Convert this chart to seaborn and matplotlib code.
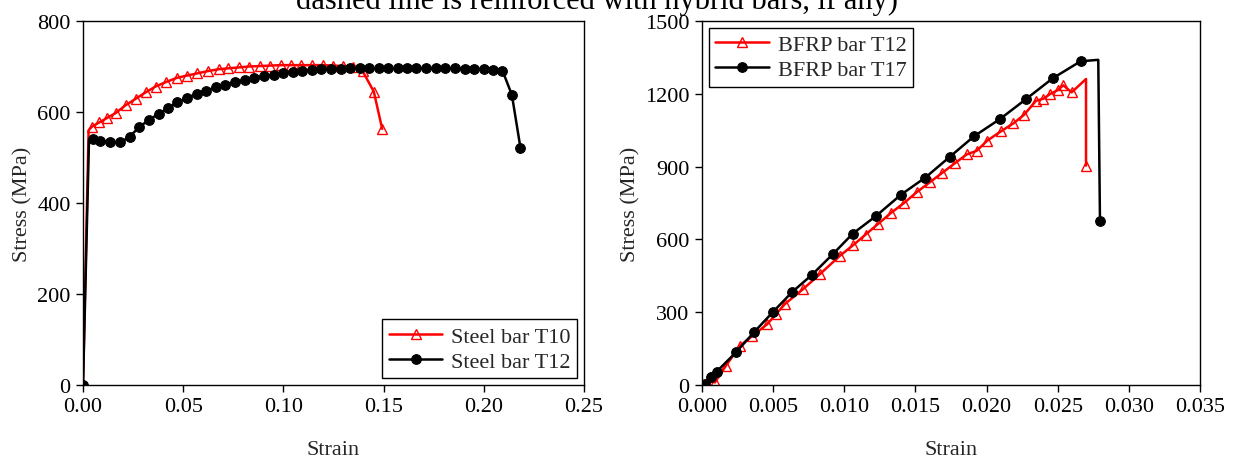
import numpy as np
import pandas as pd
import matplotlib
matplotlib.use("Agg")
import matplotlib.pyplot as plt
import seaborn as sns

# ---------------- data ----------------
t10_strain = [0, 0.0028, 0.0045, 0.0081, 0.0120, 0.0164, 0.0213, 0.0263, 0.0312, 0.0362,
              0.0415, 0.0468, 0.0518, 0.0571, 0.0624, 0.0677, 0.0726, 0.0779, 0.0829, 0.0882,
              0.0935, 0.0988, 0.1037, 0.1090, 0.1143, 0.1196, 0.1246, 0.1299, 0.1345, 0.1395,
              0.1451, 0.1493]
t10_stress = [0, 560, 568, 577, 587, 598, 615, 629, 643, 656,
              666, 675, 680, 685, 690, 694, 696, 698, 700, 701,
              702, 703, 703, 703, 703, 703, 702, 701, 700, 690,
              645, 563]

t12_strain = [0, 0.0030, 0.0048, 0.0087, 0.0137, 0.0187, 0.0233, 0.0279, 0.0329, 0.0379,
              0.0425, 0.0471, 0.0521, 0.0567, 0.0614, 0.0663, 0.0710, 0.0759, 0.0809, 0.0855,
              0.0905, 0.0951, 0.0998, 0.1047, 0.1094, 0.1143, 0.1190, 0.1239, 0.1286, 0.1332,
              0.1382, 0.1428, 0.1475, 0.1521, 0.1570, 0.1617, 0.1663, 0.1713, 0.1759, 0.1805,
              0.1855, 0.1905, 0.1951, 0.2000, 0.2047, 0.2093, 0.2140, 0.2183]
t12_stress = [0, 540, 540, 536, 535, 533, 546, 566, 583, 596,
              609, 621, 631, 640, 647, 654, 660, 666, 670, 675,
              679, 682, 685, 688, 690, 692, 694, 695, 695, 696,
              696, 696, 696, 696, 696, 696, 696, 696, 696, 696,
              696, 695, 695, 694, 693, 691, 638, 521]

b12_strain = [0, 0.00056, 0.00091, 0.00169, 0.00267, 0.0035, 0.00459, 0.00520, 0.00583, 0.00712,
              0.00829, 0.00970, 0.0106, 0.0115, 0.0124, 0.0133, 0.0142, 0.0151, 0.0160, 0.0169,
              0.0178, 0.0186, 0.0193, 0.02005, 0.0210, 0.02188, 0.02263, 0.02347, 0.0240, 0.02446,
              0.0250, 0.02539, 0.02598, 0.02699, 0.02699]
b12_stress = [0, 33, 11, 80, 162, 200, 251, 292, 334, 396,
              457, 533, 575, 620, 665, 710, 750, 795, 835, 875,
              915, 950, 965, 1007, 1045, 1078, 1113, 1171, 1180, 1199,
              1215, 1235, 1206, 1261, 904]

b17_strain = [0, 0.00021, 0.00061, 0.00103, 0.00239, 0.00365, 0.00497, 0.00635, 0.00771, 0.00919,
              0.0106, 0.0122, 0.0140, 0.0157, 0.01743, 0.01912, 0.02094, 0.02277, 0.02465, 0.02661,
              0.02785, 0.02797]
b17_stress = [0, 4, 32, 55, 135, 217, 300, 384, 453, 539,
              624, 695, 785, 855, 941, 1025, 1096, 1178, 1264, 1334,
              1340, 677]

left_xticks = [0.00, 0.05, 0.10, 0.15, 0.20, 0.25]
left_yticks = [0, 200, 400, 600, 800]
right_xticks = [0.000, 0.005, 0.010, 0.015, 0.020, 0.025, 0.030, 0.035]
right_yticks = [0, 300, 600, 900, 1200, 1500]

# ---------------- style ----------------
sns.set_theme(style="ticks")
plt.rcParams["font.family"] = ["Liberation Serif", "DejaVu Serif"]
plt.rcParams["axes.edgecolor"] = "black"
plt.rcParams["axes.linewidth"] = 1.0
plt.rcParams["xtick.color"] = "black"
plt.rcParams["ytick.color"] = "black"
plt.rcParams["xtick.direction"] = "out"
plt.rcParams["ytick.direction"] = "out"
plt.rcParams["xtick.major.size"] = 5
plt.rcParams["ytick.major.size"] = 5
plt.rcParams["font.size"] = 16

W, H = 1237, 460
fig = plt.figure(figsize=(W / 100, H / 100), dpi=100)
axL = fig.add_axes([83 / W, 1 - 386 / H, (584 - 83) / W, (386 - 22) / H])
axR = fig.add_axes([702 / W, 1 - 386 / H, (1200 - 702) / W, (386 - 22) / H])

fig.text(597 / W, 1 - 9 / H, "dashed line is reinforced with hybrid bars, if any)",
         ha="center", va="baseline", fontsize=22, color="black")

red_kw = dict(color="red", marker="^", markersize=7.5, markerfacecolor="none",
              markeredgecolor="red", markeredgewidth=1.0, linewidth=1.8)
blk_kw = dict(color="black", marker="o", markersize=7, markerfacecolor="black",
              markeredgecolor="black", linewidth=1.8)

dfL1 = pd.DataFrame({"strain": t10_strain, "stress": t10_stress})
dfL2 = pd.DataFrame({"strain": t12_strain, "stress": t12_stress})
sns.lineplot(data=dfL1, x="strain", y="stress", ax=axL, sort=False, estimator=None,
             label="Steel bar T10", markevery=[0] + list(range(2, len(t10_strain))), **red_kw)
sns.lineplot(data=dfL2, x="strain", y="stress", ax=axL, sort=False, estimator=None,
             label="Steel bar T12", markevery=[0] + list(range(2, len(t12_strain))), **blk_kw)

dfR1 = pd.DataFrame({"strain": b12_strain, "stress": b12_stress})
dfR2 = pd.DataFrame({"strain": b17_strain, "stress": b17_stress})
n1 = len(b12_strain)
sns.lineplot(data=dfR1, x="strain", y="stress", ax=axR, sort=False, estimator=None,
             label="BFRP bar T12", markevery=list(range(0, n1 - 2)) + [n1 - 1], **red_kw)
n2 = len(b17_strain)
sns.lineplot(data=dfR2, x="strain", y="stress", ax=axR, sort=False, estimator=None,
             label="BFRP bar T17", markevery=list(range(1, n2 - 2)) + [n2 - 1], **blk_kw)

for ax, xt, yt, fmt_x in [(axL, left_xticks, left_yticks, "{:.2f}"),
                          (axR, right_xticks, right_yticks, "{:.3f}")]:
    ax.set_xlim(xt[0], xt[-1])
    ax.set_ylim(yt[0], yt[-1])
    ax.set_xticks(xt)
    ax.set_xticklabels([fmt_x.format(v) for v in xt], fontsize=16)
    ax.set_yticks(yt)
    ax.set_yticklabels([str(v) for v in yt], fontsize=16)
    ax.set_xlabel("Strain", fontsize=16, labelpad=17)
    ax.set_ylabel("Stress (MPa)", fontsize=16, labelpad=3)
    ax.tick_params(axis="both", which="major", length=5, width=1, pad=4)
    for s in ax.spines.values():
        s.set_visible(True)
        s.set_color("black")
        s.set_linewidth(1.0)
    ax.grid(False)
    ax.set_facecolor("white")

legL = axL.legend(loc="lower right", fontsize=16, frameon=True, fancybox=False,
                  edgecolor="black", framealpha=1, handlelength=2.4, borderpad=0.3,
                  labelspacing=0.2, handletextpad=0.4, borderaxespad=0.3)
legL.get_frame().set_linewidth(1.0)
legR = axR.legend(loc="upper left", fontsize=16, frameon=True, fancybox=False,
                  edgecolor="black", framealpha=1, handlelength=2.4, borderpad=0.3,
                  labelspacing=0.2, handletextpad=0.4, borderaxespad=0.3)
legR.get_frame().set_linewidth(1.0)

fig.savefig("out.png", dpi=100, facecolor="white")
